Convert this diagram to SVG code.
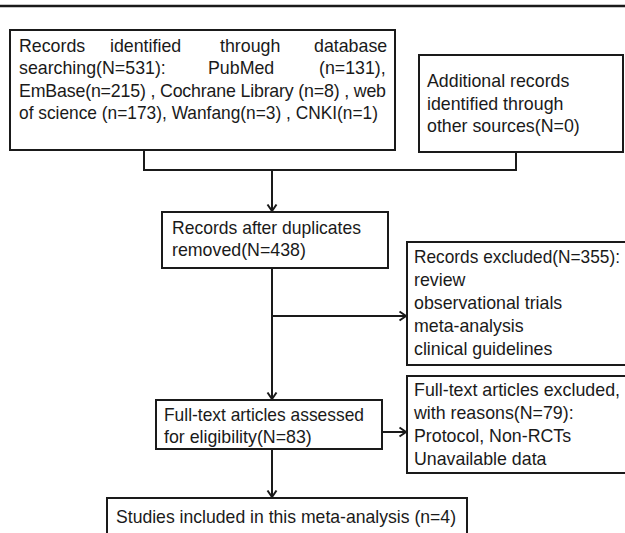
<svg xmlns="http://www.w3.org/2000/svg" width="625" height="533" viewBox="0 0 625 533">
<defs>
<marker id="ah" markerWidth="10" markerHeight="12" refX="8" refY="6" orient="auto" markerUnits="userSpaceOnUse">
<path d="M1.5,1.5 L8,6 L1.5,10.5" fill="none" stroke="#1a1a1a" stroke-width="2"/>
</marker>
</defs>
<style>
.box{fill:#fff;stroke:#1a1a1a;stroke-width:2}
.t{font-family:"Liberation Sans",Arial,sans-serif;font-size:17.8px;fill:#1a1a1a}
.c{fill:none;stroke:#1a1a1a;stroke-width:2}
</style>
<rect width="625" height="533" fill="#fff"/>
<line x1="0" y1="6" x2="625" y2="6" stroke="#1a1a1a" stroke-width="2.5"/>
<g id="connectors">
<polyline class="c" points="144,150 144,170 516,170 516,152"/>
<line class="c" x1="272" y1="170" x2="272" y2="211" marker-end="url(#ah)"/>
<line class="c" x1="272" y1="268" x2="272" y2="399" marker-end="url(#ah)"/>
<line class="c" x1="272" y1="316" x2="406" y2="316" marker-end="url(#ah)"/>
<line class="c" x1="382" y1="432" x2="406" y2="432" marker-end="url(#ah)"/>
<line class="c" x1="272" y1="449" x2="272" y2="497" marker-end="url(#ah)"/>
</g>
<g id="n1">
<rect class="box" x="10" y="30" width="385" height="120"/>
<text class="t" y="52"><tspan x="19">Records</tspan><tspan x="110">identified</tspan><tspan x="220">through</tspan><tspan x="314">database</tspan></text>
<text class="t" y="74"><tspan x="19">searching(N=531):</tspan><tspan x="208">PubMed</tspan><tspan x="319">(n=131),</tspan></text>
<text class="t" x="19" y="97" textLength="367" lengthAdjust="spacing">EmBase(n=215) , Cochrane Library (n=8) , web</text>
<text class="t" x="19" y="119" textLength="359" lengthAdjust="spacingAndGlyphs">of science (n=173), Wanfang(n=3) , CNKI(n=1)</text>
</g>
<g id="n2">
<rect class="box" x="419" y="55" width="204" height="97"/>
<text class="t" x="427" y="87">Additional records</text>
<text class="t" x="427" y="110">identified through</text>
<text class="t" x="427" y="132">other sources(N=0)</text>
</g>
<g id="n3">
<rect class="box" x="162" y="212" width="226" height="56"/>
<text class="t" x="172" y="234" textLength="189" lengthAdjust="spacingAndGlyphs">Records after duplicates</text>
<text class="t" x="172" y="256">removed(N=438)</text>
</g>
<g id="n4">
<rect class="box" x="407" y="242" width="230" height="123"/>
<text class="t" x="414" y="263" textLength="206" lengthAdjust="spacingAndGlyphs">Records excluded(N=355):</text>
<text class="t" x="414" y="286">review</text>
<text class="t" x="414" y="309">observational trials</text>
<text class="t" x="414" y="332">meta-analysis</text>
<text class="t" x="414" y="355">clinical guidelines</text>
</g>
<g id="n5">
<rect class="box" x="156" y="400" width="226" height="49"/>
<text class="t" x="164" y="421" textLength="200" lengthAdjust="spacingAndGlyphs">Full-text articles assessed</text>
<text class="t" x="164" y="443">for eligibility(N=83)</text>
</g>
<g id="n6">
<rect class="box" x="407" y="376" width="230" height="97"/>
<text class="t" x="414" y="396" textLength="206" lengthAdjust="spacingAndGlyphs">Full-text articles excluded,</text>
<text class="t" x="414" y="419">with reasons(N=79):</text>
<text class="t" x="414" y="442">Protocol, Non-RCTs</text>
<text class="t" x="414" y="465">Unavailable data</text>
</g>
<g id="n7">
<rect class="box" x="107" y="498" width="360" height="50"/>
<text class="t" x="116" y="523" textLength="340" lengthAdjust="spacingAndGlyphs">Studies included in this meta-analysis (n=4)</text>
</g>
</svg>
